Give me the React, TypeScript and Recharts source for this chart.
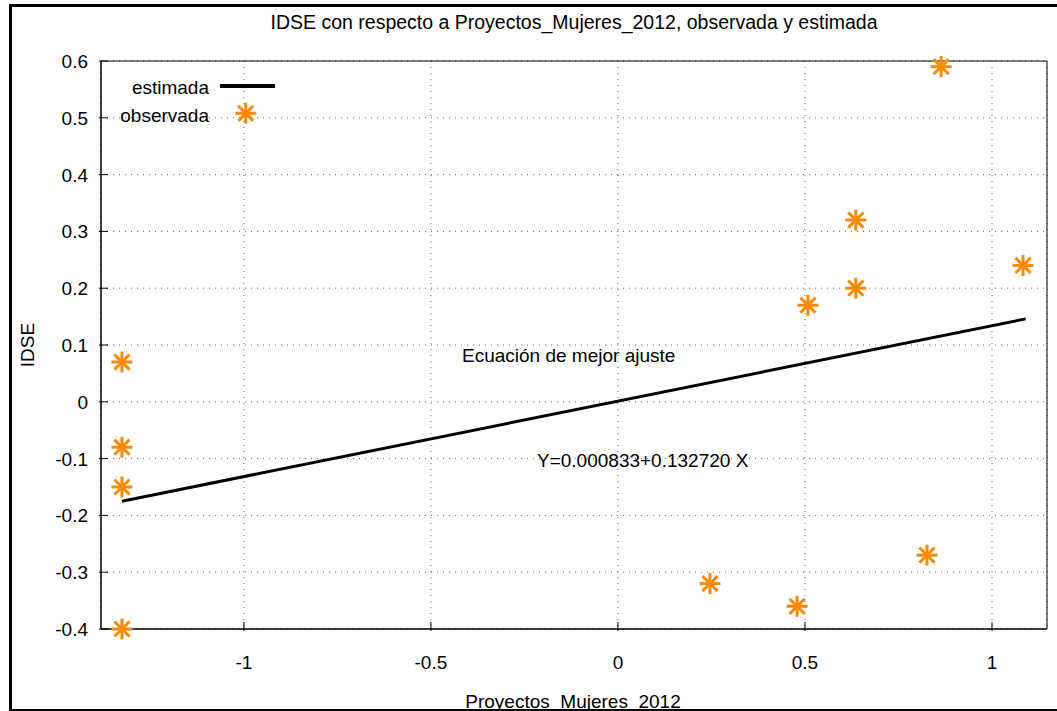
import {
  ScatterChart,
  Scatter,
  XAxis,
  YAxis,
  CartesianGrid,
  ReferenceArea,
  ReferenceDot,
} from "recharts";

const xTicks = [-1, -0.5, 0, 0.5, 1];
const yTicks = [-0.4, -0.3, -0.2, -0.1, 0, 0.1, 0.2, 0.3, 0.4, 0.5, 0.6];
const xDomain = [-1.382, 1.147];
const yDomain = [-0.4, 0.6];

const obsX = [-1.326, -1.326, -1.326, -1.326, 0.246, 0.479, 0.508, 0.636, 0.636, 0.826, 0.864, 1.083];
const obsY = [-0.4, -0.15, -0.08, 0.07, -0.32, -0.36, 0.17, 0.2, 0.32, -0.27, 0.59, 0.24];

const fitX = [-1.326, 1.09];
const fitY = [-0.175, 0.146];

const observada = obsX.map((x, i) => ({ x, y: obsY[i] }));
const estimada = fitX.map((x, i) => ({ x, y: fitY[i] }));

const ORANGE = "#f98a06";
const FONT = "'Liberation Sans', Arial, sans-serif";

const Star = (props: any) => {
  const { cx, cy } = props;
  const r = 10.5;
  const d = r * 0.72;
  return (
    <g stroke={ORANGE} strokeWidth={3}>
      <line x1={cx - r} y1={cy} x2={cx + r} y2={cy} />
      <line x1={cx} y1={cy - r} x2={cx} y2={cy + r} />
      <line x1={cx - d} y1={cy - d} x2={cx + d} y2={cy + d} />
      <line x1={cx - d} y1={cy + d} x2={cx + d} y2={cy - d} />
    </g>
  );
};

const XTick = (props: any) => {
  const { x, y, payload } = props;
  return (
    <g>
      <line x1={x} y1={y} x2={x} y2={y - 9} stroke="#000" strokeWidth={1} />
      <text x={x} y={y + 38} textAnchor="middle" fontSize={19} fontFamily={FONT} fill="#000">
        {payload.value}
      </text>
    </g>
  );
};

const YTick = (props: any) => {
  const { x, y, payload } = props;
  return (
    <g>
      <line x1={x} y1={y} x2={x + 9} y2={y} stroke="#000" strokeWidth={1} />
      <text x={x - 11} y={y + 7} textAnchor="end" fontSize={19} fontFamily={FONT} fill="#000">
        {payload.value}
      </text>
    </g>
  );
};

const TopTick = (props: any) => {
  const { x, y } = props;
  return <line x1={x} y1={y} x2={x} y2={y + 9} stroke="#000" strokeWidth={1} />;
};

const RightTick = (props: any) => {
  const { x, y } = props;
  return <line x1={x} y1={y} x2={x - 9} y2={y} stroke="#000" strokeWidth={1} />;
};

export default function App() {
  return (
    <div style={{ position: "absolute", left: 0, top: 0, width: 1057, height: 711, background: "#fff", overflow: "hidden" }}>
      <div
        style={{
          position: "absolute",
          left: 9,
          top: 4,
          width: 1060,
          height: 702,
          border: "3px solid #000",
        }}
      />
      <div style={{ position: "absolute", left: 0, top: 0 }}>
        <ScatterChart
          width={1057}
          height={711}
          margin={{ top: 61, right: 10, bottom: 42, left: 41 }}
        >
          <CartesianGrid stroke="#666" strokeDasharray="1 5" />
          <XAxis
            xAxisId={0}
            type="number"
            dataKey="x"
            domain={xDomain}
            ticks={xTicks}
            height={40}
            tickSize={0}
            tickLine={false}
            axisLine={{ stroke: "#000" }}
            tick={<XTick />}
          />
          <XAxis
            xAxisId="top"
            orientation="top"
            type="number"
            dataKey="x"
            domain={xDomain}
            ticks={xTicks}
            height={0}
            tickSize={0}
            tickLine={false}
            axisLine={{ stroke: "#000" }}
            tick={<TopTick />}
          />
          <YAxis
            yAxisId={0}
            type="number"
            dataKey="y"
            domain={yDomain}
            ticks={yTicks}
            width={60}
            tickSize={0}
            tickLine={false}
            axisLine={{ stroke: "#000" }}
            tick={<YTick />}
          />
          <YAxis
            yAxisId="right"
            orientation="right"
            type="number"
            dataKey="y"
            domain={yDomain}
            ticks={yTicks}
            width={0}
            tickSize={0}
            tickLine={false}
            axisLine={{ stroke: "#000" }}
            tick={<RightTick />}
          />
          <ReferenceArea
            x1={xDomain[0]}
            x2={xDomain[1]}
            y1={yDomain[0]}
            y2={yDomain[1]}
            fill="none"
            stroke="#000"
            strokeWidth={1}
            ifOverflow="visible"
          />
          <Scatter
            name="estimada"
            data={estimada}
            line={{ stroke: "#000", strokeWidth: 3 }}
            shape={() => <g />}
            isAnimationActive={false}
          />
          <Scatter
            name="observada"
            data={observada}
            shape={<Star />}
            isAnimationActive={false}
          />
          <ReferenceDot x={-0.995} y={0.508} r={0} ifOverflow="visible" shape={<Star />} />
          <text x={574} y={29} textAnchor="middle" fontSize={19.5} fontFamily={FONT} fill="#000">
            IDSE con respecto a Proyectos_Mujeres_2012, observada y estimada
          </text>
          <text x={209} y={94} textAnchor="end" fontSize={19} fontFamily={FONT} fill="#000">
            estimada
          </text>
          <line x1={220} y1={86} x2={275} y2={86} stroke="#000" strokeWidth={4} />
          <text x={209} y={122} textAnchor="end" fontSize={19} fontFamily={FONT} fill="#000">
            observada
          </text>
          <text x={462} y={362} fontSize={19} fontFamily={FONT} fill="#000">
            Ecuación de mejor ajuste
          </text>
          <text x={537} y={467} fontSize={19} fontFamily={FONT} fill="#000">
            Y=0.000833+0.132720 X
          </text>
          <text x={573} y={708} textAnchor="middle" fontSize={19} fontFamily={FONT} fill="#000">
            Proyectos_Mujeres_2012
          </text>
          <text
            x={34}
            y={345}
            textAnchor="middle"
            fontSize={19}
            fontFamily={FONT}
            fill="#000"
            transform="rotate(-90 34 345)"
          >
            IDSE
          </text>
        </ScatterChart>
      </div>
    </div>
  );
}
